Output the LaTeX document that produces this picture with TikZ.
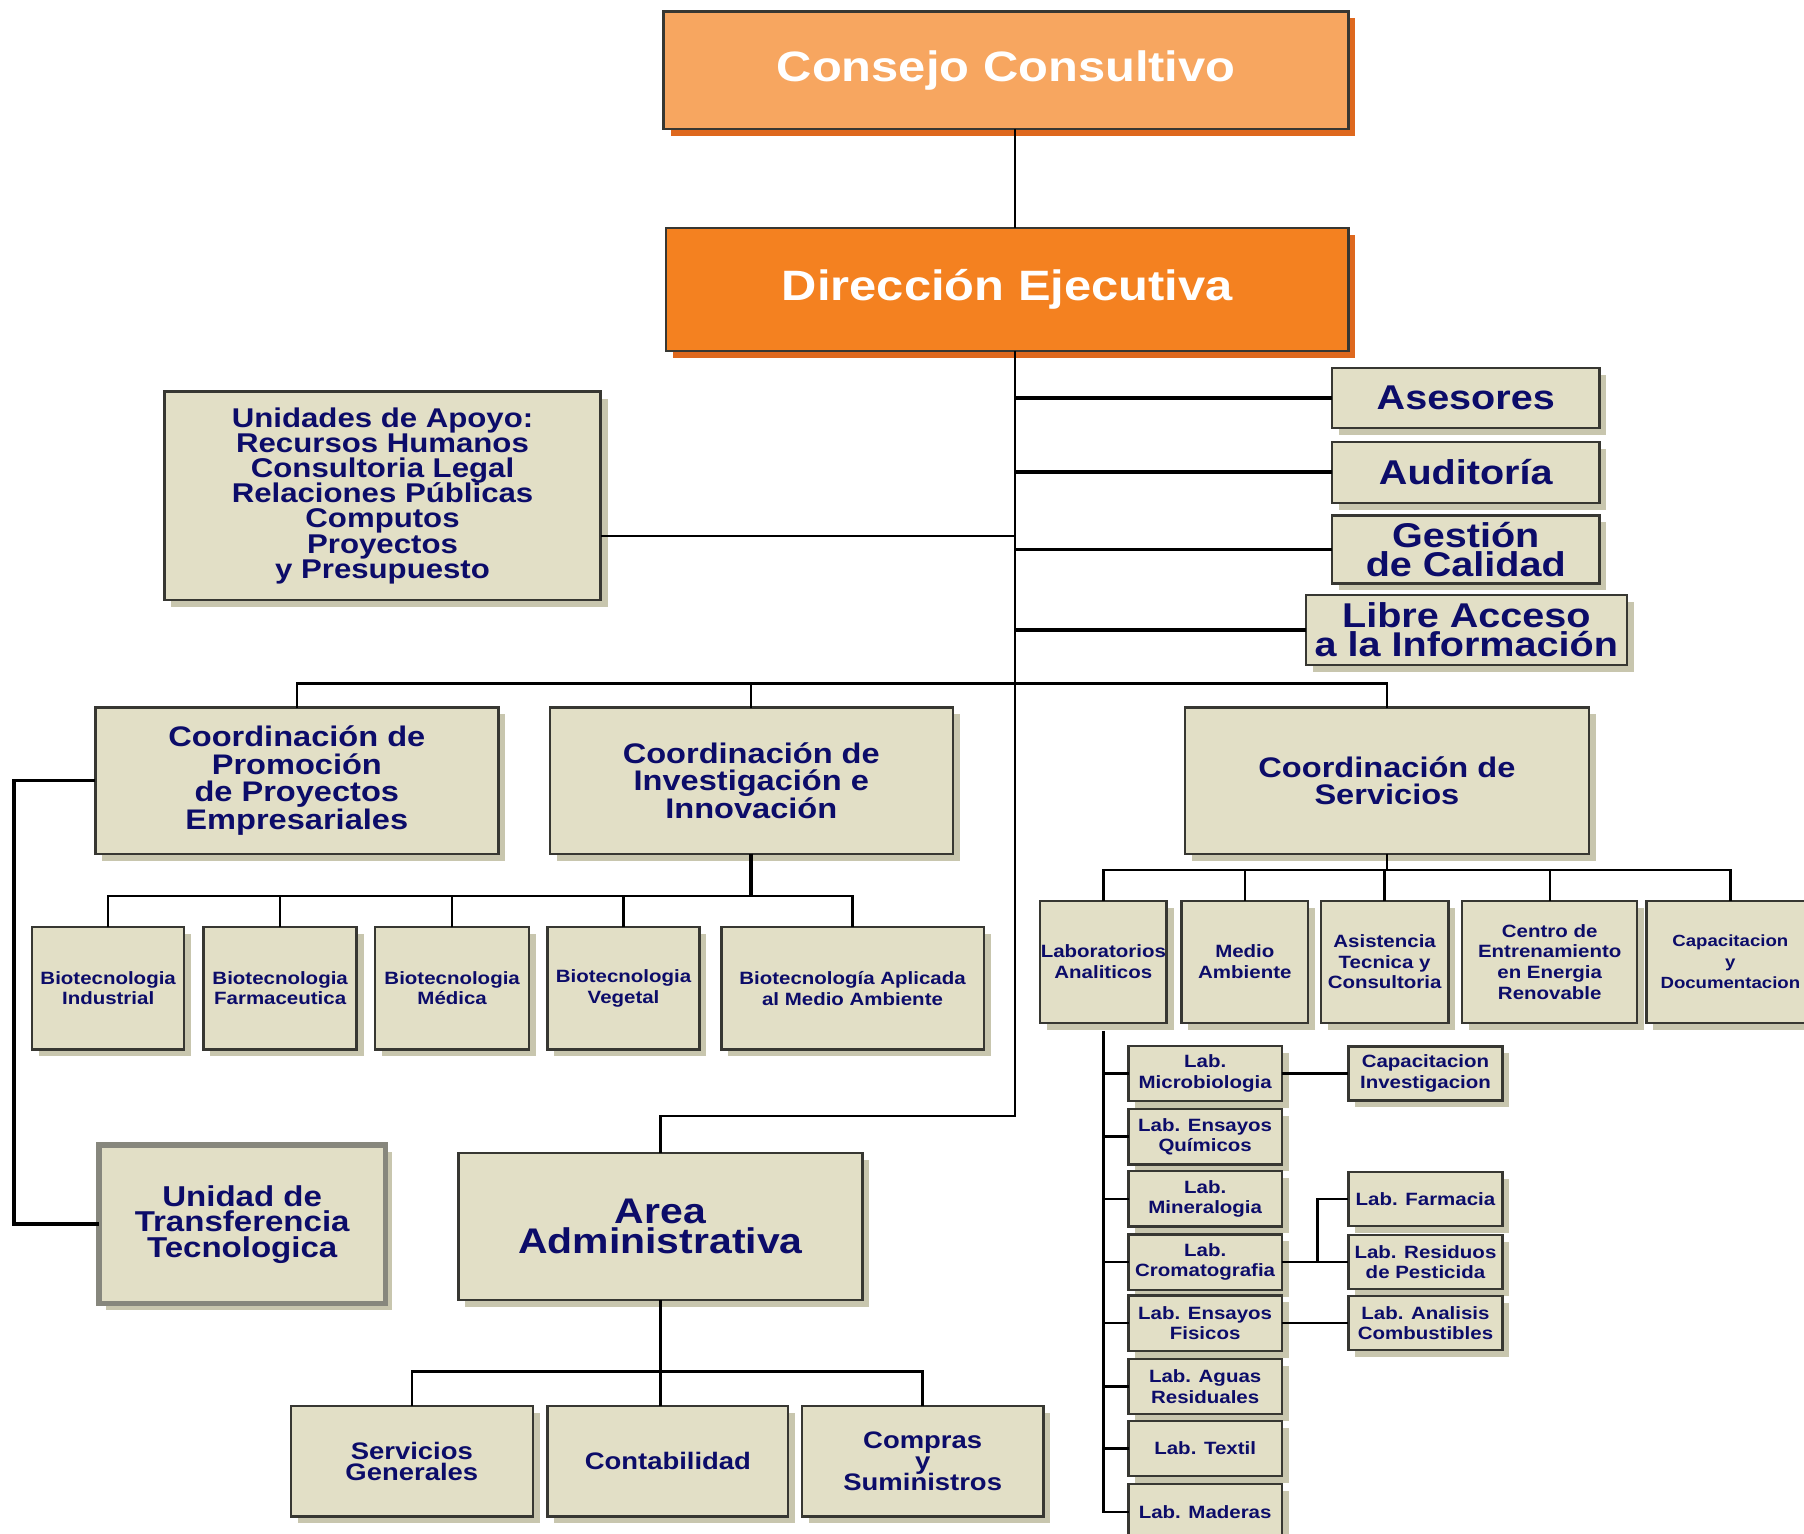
\documentclass[tikz,border=0pt]{standalone}
\usepackage{fontspec}
\setmainfont{Liberation Sans}[FakeStretch=1.15]
\usetikzlibrary{shadows}

\definecolor{cajafondo}{RGB}{226,223,198}
\definecolor{cajasombra}{RGB}{200,198,174}
\definecolor{cajaborde}{RGB}{55,55,50}
\definecolor{bordegris}{RGB}{135,135,125}
\definecolor{azultexto}{RGB}{12,12,105}
\definecolor{naranjaclaro}{RGB}{247,166,96}
\definecolor{naranja}{RGB}{244,129,32}
\definecolor{naranjasombra}{RGB}{222,104,30}

\tikzset{
  tam/.style 2 args={minimum width=#1*0.1mm, minimum height=#2*0.1mm},
  caja/.style={draw=cajaborde, line width=0.6pt, fill=cajafondo, text=azultexto,
    align=center, inner sep=0pt, outer sep=0pt,
    execute at begin node={\lineskiplimit=-20pt},
    drop shadow={shadow xshift=1.7pt, shadow yshift=-1.7pt, fill=cajasombra, opacity=1}},
  jefe/.style={caja, text=white, font=\bfseries\fontsize{10.5}{12}\selectfont,
    drop shadow={shadow xshift=1.7pt, shadow yshift=-1.7pt, fill=naranjasombra, opacity=1}},
  staff/.style={caja, font=\bfseries\fontsize{8.5}{7.1}\selectfont},
  coord/.style={caja, font=\bfseries\fontsize{7}{6.8}\selectfont},
  chica/.style={caja, font=\bfseries\fontsize{4.4}{5.1}\selectfont},
  admin/.style={caja, font=\bfseries\fontsize{5.9}{5.1}\selectfont},
  linea/.style={line width=0.6pt},
  lineagruesa/.style={line width=0.9pt}
}

\begin{document}
\begin{tikzpicture}[x=0.01cm, y=-0.01cm]
  \clip (0,0) rectangle (1568,1333);

  % cabeza
  \node[jefe, fill=naranjaclaro, tam={595}{102}] (cons) at (874.5,61) {Consejo Consultivo};
  \node[jefe, fill=naranja, tam={593}{107}] (dir) at (875.5,251.5) {Dirección Ejecutiva};
  \coordinate (trunk) at (882,970);

  % staff
  \node[staff, tam={232}{52}] (ase) at (1274,346) {Asesores};
  \node[staff, tam={232}{53}] (aud) at (1274,410.5) {Auditoría};
  \node[staff, tam={232}{59}] (ges) at (1274,477.5) {Gestión\\de Calidad};
  \node[staff, tam={279}{61}] (lib) at (1274.5,547.5) {Libre Acceso\\a la Información};
  \node[caja, tam={379}{181}, font=\bfseries\fontsize{6.7}{6.2}\selectfont] (apoyo) at (332.5,431)
    {Unidades de Apoyo:\\Recursos Humanos\\Consultoria Legal\\Relaciones Públicas\\Computos\\Proyectos\\y Presupuesto};
  \coordinate (apoyofin) at (882,466);

  % coordinaciones
  \node[coord, tam={350}{127}] (prom) at (258,678.5) {Coordinación de\\Promoción\\de Proyectos\\Empresariales};
  \node[coord, tam={350}{127}] (inv) at (653,678.5) {Coordinación de\\Investigación e\\Innovación};
  \node[coord, tam={351}{127}] (serv) at (1205.5,678.5) {Coordinación de\\Servicios};
  \coordinate (bus1) at (0,594);

  % biotecnologia
  \node[chica, tam={132}{106}] (bio1) at (94,859) {Biotecnologia\\Industrial};
  \node[chica, tam={133}{106}] (bio2) at (243.5,859) {Biotecnologia\\Farmaceutica};
  \node[chica, tam={134}{106}] (bio3) at (393,859) {Biotecnologia\\Médica};
  \node[chica, tam={132}{106}] (bio4) at (542,859) {Biotecnologia\\Vegetal};
  \node[chica, tam={228}{106}] (bio5) at (741,859) {Biotecnología Aplicada\\al Medio Ambiente};
  \coordinate (bus2) at (0,779);

  % servicios
  \node[chica, tam={110}{106}] (sv1) at (959,836) {Laboratorios\\Analiticos};
  \node[chica, tam={110}{106}] (sv2) at (1082,836) {Medio\\Ambiente};
  \node[chica, tam={111}{106}] (sv3) at (1203.5,836) {Asistencia\\Tecnica y\\Consultoria};
  \node[chica, tam={152}{106}] (sv4) at (1347,836) {Centro de\\Entrenamiento\\en Energia\\Renovable};
  \node[chica, tam={146}{106}, font=\bfseries\fontsize{4.0}{5.1}\selectfont] (sv5) at (1504,836) {Capacitacion\\y\\Documentacion};
  \coordinate (bus3) at (0,756);

  % laboratorios
  \node[chica, tam={133}{48}] (micro) at (1047.5,933) {Lab.\\Microbiologia};
  \node[chica, tam={133}{48}] (quim) at (1047.5,988) {Lab. Ensayos\\Químicos};
  \node[chica, tam={133}{48}] (miner) at (1047.5,1042) {Lab.\\Mineralogia};
  \node[chica, tam={133}{48}] (crom) at (1047.5,1097) {Lab.\\Cromatografia};
  \node[chica, tam={133}{48}] (fis) at (1047.5,1150) {Lab. Ensayos\\Fisicos};
  \node[chica, tam={133}{48}] (aguas) at (1047.5,1205) {Lab. Aguas\\Residuales};
  \node[chica, tam={133}{48}] (textil) at (1047.5,1259) {Lab. Textil};
  \node[chica, tam={133}{48}] (mad) at (1047.5,1314) {Lab. Maderas};

  \node[chica, tam={134}{47}] (capinv) at (1239,933) {Capacitacion\\Investigacion};
  \node[chica, tam={134}{47}] (farm) at (1239,1042) {Lab. Farmacia};
  \node[chica, tam={134}{47}] (resid) at (1239,1097) {Lab. Residuos\\de Pesticida};
  \node[chica, tam={134}{47}] (comb) at (1239,1150) {Lab. Analisis\\Combustibles};
  \coordinate (cromfork) at (1145,1097);

  % parte baja
  \node[caja, tam={249}{138}, draw=bordegris, line width=1.4pt,
    font=\bfseries\fontsize{7.1}{6.3}\selectfont] (transf) at (210.5,1064) {Unidad de\\Transferencia\\Tecnologica};
  \node[caja, tam={351}{128}, font=\bfseries\fontsize{8.8}{7.4}\selectfont] (area) at (574,1066) {Area\\Administrativa};
  \node[admin, tam={210}{96}] (sg) at (358,1270) {Servicios\\Generales};
  \node[admin, tam={209}{96}] (cont) at (580.5,1270) {Contabilidad};
  \node[admin, tam={210}{96}] (comp) at (802,1270) {Compras\\y\\Suministros};
  \coordinate (bus4) at (0,1192);

  % conectores
  \draw[linea] (cons.south -| trunk) -- (dir.north -| trunk);
  \draw[linea] (dir.south -| trunk) -- (trunk) -| (area.north);
  \foreach \n in {ase,aud,ges,lib}
    \draw[lineagruesa] (trunk |- \n.west) -- (\n.west);
  \draw[linea] (apoyo.east |- apoyofin) -- (apoyofin);

  \draw[linea] (prom.north) |- (bus1 -| serv.north) -- (serv.north);
  \draw[linea] (inv.north) -- (inv.north |- bus1);
  \draw[lineagruesa] (prom.west) -- ++(-71,0) |- (transf.west);

  \draw[lineagruesa] (inv.south) -- (inv.south |- bus2);
  \draw[linea] (bio1.north) |- (bus2 -| bio5.north) -- (bio5.north);
  \foreach \n in {bio2,bio3,bio4}
    \draw[linea] (\n.north) -- (\n.north |- bus2);

  \draw[linea] (serv.south) -- (serv.south |- bus3);
  \draw[linea] (sv1.north) |- (bus3 -| sv5.north) -- (sv5.north);
  \foreach \n in {sv2,sv3,sv4}
    \draw[linea] (\n.north) -- (\n.north |- bus3);

  \draw[linea] ([yshift=-2pt]sv1.south) |- (mad.west);
  \foreach \n in {micro,quim,miner,crom,fis,aguas,textil}
    \draw[linea] (sv1.south |- \n.west) -- (\n.west);
  \draw[linea] (micro.east) -- (capinv.west);
  \draw[linea] (crom.east) -- (resid.west);
  \draw[linea] (cromfork) |- (farm.west);
  \draw[linea] (fis.east) -- (comb.west);

  \draw[linea] (area.south) -- (area.south |- cont.north);
  \draw[linea] (sg.north) |- (bus4 -| comp.north) -- (comp.north);
\end{tikzpicture}
\end{document}
